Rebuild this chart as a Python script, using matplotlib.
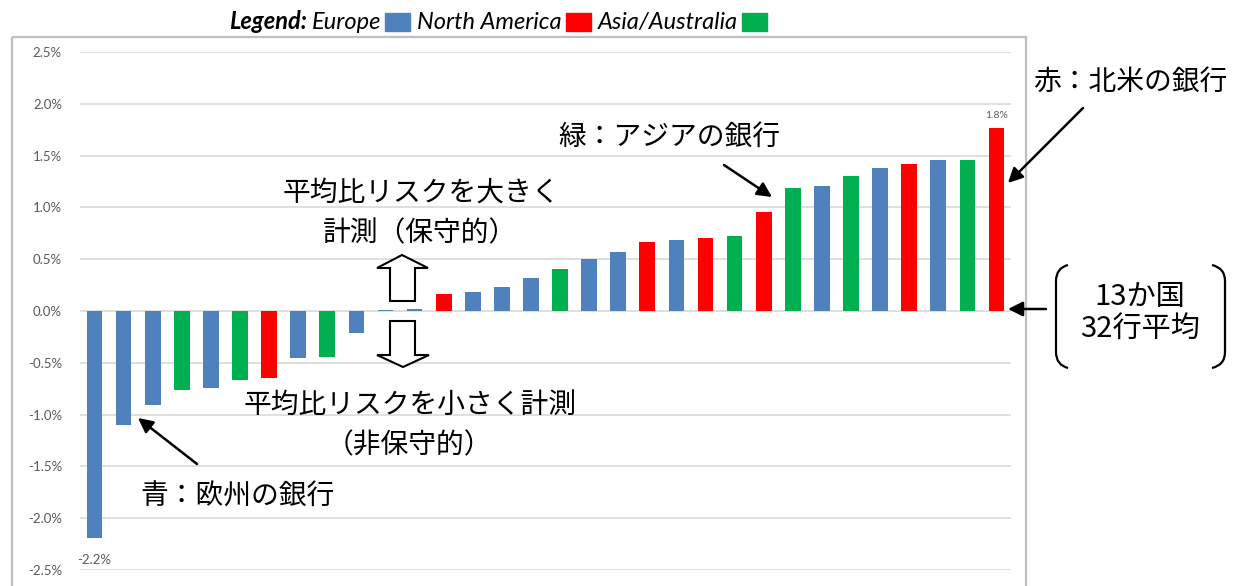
import matplotlib
matplotlib.use("Agg")
import matplotlib.pyplot as plt
import numpy as np
from matplotlib.patches import Rectangle, Polygon, PathPatch
from matplotlib.path import Path
from matplotlib.ticker import FuncFormatter

plt.rcParams["font.family"] = ["Noto Sans CJK JP", "DejaVu Sans"]

# 平均比リスク (%) — 32行、小さい順
values = [-2.19, -1.10, -0.91, -0.76, -0.74, -0.67, -0.65, -0.45, -0.44, -0.21,
          0.01, 0.015, 0.16, 0.18, 0.23, 0.32, 0.41, 0.50, 0.57, 0.67,
          0.69, 0.70, 0.72, 0.96, 1.19, 1.21, 1.30, 1.38, 1.42, 1.46,
          1.46, 1.77]
regions = ["EU", "EU", "EU", "AS", "EU", "AS", "NA", "EU", "AS", "EU",
           "EU", "EU", "NA", "EU", "EU", "EU", "AS", "EU", "EU", "NA",
           "EU", "NA", "AS", "NA", "AS", "EU", "AS", "EU", "NA", "EU",
           "AS", "NA"]
region_colors = {"EU": "#4F81BD", "NA": "#FF0000", "AS": "#00B050"}
legend_names = ["Europe", "North America", "Asia/Australia"]
legend_keys = ["EU", "NA", "AS"]
yticks = [-2.5, -2.0, -1.5, -1.0, -0.5, 0.0, 0.5, 1.0, 1.5, 2.0, 2.5]

W, H = 1235, 586
fig = plt.figure(figsize=(W / 100, H / 100), dpi=100)

# メインの棒グラフ
ax = fig.add_axes([80 / W, 1 - 570 / H, 931 / W, 518 / H])
x = np.arange(len(values))
ax.bar(x, values, width=0.54, color=[region_colors[r] for r in regions], zorder=3)
ax.set_xlim(-0.5, len(values) - 0.5)
ax.set_ylim(yticks[0], yticks[-1])
ax.set_yticks(yticks)
ax.yaxis.set_major_formatter(FuncFormatter(lambda v, p: f"{v:.1f}%"))
ax.tick_params(axis="y", length=0, pad=13, labelsize=9.5, labelcolor="#595959")
for lab in ax.get_yticklabels():
    lab.set_family("Lato")
ax.set_xticks([])
for s in ax.spines.values():
    s.set_visible(False)
ax.grid(axis="y", color="#D9D9D9", lw=1.2, zorder=0)
ax.patch.set_alpha(0)

# 端の値ラベル
ax.annotate(f"{values[0]:.1f}%", (x[0], values[0]), xytext=(0, -16),
            textcoords="offset points", ha="center", va="center",
            fontsize=9.5, color="#595959", family="Lato")
ax.annotate(f"{values[-1]:.1f}%", (x[-1], values[-1]), xytext=(0, 9),
            textcoords="offset points", ha="center", va="center",
            fontsize=7.5, color="#595959", family="Lato")

# 注釈用のオーバーレイ (ピクセル座標)
ov = fig.add_axes([0, 0, 1, 1], zorder=5)
ov.set_xlim(0, W)
ov.set_ylim(H, 0)
ov.axis("off")
ov.patch.set_alpha(0)

ov.add_patch(Rectangle((12, 37), 1014, 580, fill=False, ec="#BFBFBF", lw=1.6))

# 凡例 (左から順に並べる)
fig.canvas.draw()
renderer = fig.canvas.get_renderer()
inv = ov.transData.inverted()


def right_edge(t):
    bb = t.get_window_extent(renderer)
    return inv.transform((bb.x1, bb.y0))[0]


t = ov.text(229, 29, "Legend:", family="Lato", style="italic", weight="bold",
            fontsize=17, va="baseline")
cur = right_edge(t) + 5
for name, key in zip(legend_names, legend_keys):
    t = ov.text(cur, 29, name, family="Lato", style="italic", fontsize=17,
                va="baseline")
    cur = right_edge(t) + 4
    ov.add_patch(Rectangle((cur, 13), 25, 18, color=region_colors[key]))
    cur += 25 + 7

jp = dict(fontsize=20, ha="center", va="center", color="black")
arrow = dict(arrowstyle="-|>", lw=1.8, color="black", mutation_scale=22,
             shrinkA=0, shrinkB=0)

ov.text(1130, 82, "赤：北米の銀行", **jp)
ov.annotate("", xy=(1008, 183), xytext=(1083, 108), arrowprops=arrow)

ov.text(669, 137, "緑：アジアの銀行", **jp)
ov.annotate("", xy=(772, 197), xytext=(724, 165), arrowprops=arrow)

ov.text(237, 497, "青：欧州の銀行", **jp)
ov.annotate("", xy=(138, 418), xytext=(197, 464), arrowprops=arrow)

ov.text(421, 193, "平均比リスクを大きく", **jp)
ov.text(420, 233, "計測（保守的）", **jp)
ov.text(410, 405, "平均比リスクを小さく計測", **jp)
ov.text(409, 445, "（非保守的）", **jp)

# 白抜き矢印
up = [(402, 255), (428, 268), (415, 268), (415, 301), (390, 301), (390, 268), (377, 268)]
down = [(403, 367), (429, 355), (415, 355), (415, 321), (390, 321), (390, 355), (377, 355)]
for pts in (up, down):
    ov.add_patch(Polygon(pts, closed=True, fc="white", ec="black", lw=1.5))

# 13か国 32行平均
ov.text(1140, 297, "13か国", fontsize=21, ha="center", va="center")
ov.text(1140, 329, "32行平均", fontsize=21, ha="center", va="center")
ov.annotate("", xy=(1008, 309), xytext=(1046, 309), arrowprops=arrow)


def paren(x_in, x_out, top, bot):
    verts = [(x_in, top), (x_out, top + 3), (x_out, top + 16),
             (x_out, bot - 16), (x_out, bot - 3), (x_in, bot)]
    codes = [Path.MOVETO, Path.CURVE3, Path.CURVE3, Path.LINETO,
             Path.CURVE3, Path.CURVE3]
    ov.add_patch(PathPatch(Path(verts, codes), fill=False, ec="black", lw=1.6))


paren(1068, 1056, 265, 368)
paren(1212, 1225, 265, 368)

fig.savefig("out.png", dpi=100)
